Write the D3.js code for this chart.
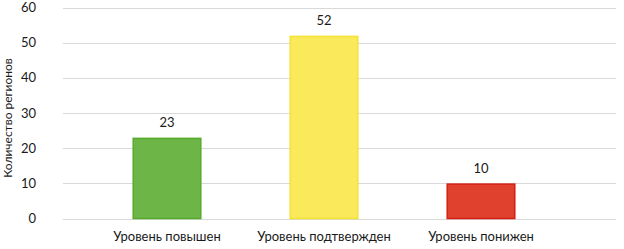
<!DOCTYPE html>
<html><head><meta charset="utf-8">
<script src="https://cdn.jsdelivr.net/npm/d3@7"></script>
<style>body{margin:0;background:#fff}svg{display:block}text{font-family:Lato,"Open Sans",sans-serif;fill:#1a1a1a}</style>
</head><body><svg id="c" width="624" height="249"></svg>
<script>
const categories = ["Уровень повышен", "Уровень подтвержден", "Уровень понижен"];
const values = [23, 52, 10];
const fills = ["#6db546", "#fae95a", "#e0402e"];
const strokes = ["#55ab2c", "#f4e234", "#d51f14"];
const yTicks = [0, 10, 20, 30, 40, 50, 60];
const yTitle = "Количество регионов";

const svg = d3.select("#c");
const y = d3.scaleLinear().domain([0, 60]).range([218.5, 7.5]);
const x = d3.scaleBand().domain(categories).range([88.5, 559.5]).paddingInner(0.56).paddingOuter(0.28);

svg.append("g").selectAll("line").data(yTicks).join("line")
  .attr("x1", 63).attr("x2", 616)
  .attr("y1", d => Math.round(y(d)) + 0.5).attr("y2", d => Math.round(y(d)) + 0.5)
  .attr("stroke", "#d9d9d9").attr("stroke-width", 1);

svg.append("g").selectAll("text").data(yTicks).join("text")
  .attr("x", 36).attr("y", d => y(d)).attr("dy", "0.35em")
  .attr("text-anchor", "end").attr("font-size", 13).text(d => d);

svg.append("text").attr("transform", "translate(12,118) rotate(-90)")
  .attr("text-anchor", "middle").attr("font-size", 12).text(yTitle);

svg.append("g").selectAll("rect").data(values).join("rect")
  .attr("x", (d, i) => x(categories[i]) + 0.75)
  .attr("width", x.bandwidth() - 1.5)
  .attr("y", d => y(d) + 0.75)
  .attr("height", d => y(0) - y(d) - 0.75)
  .attr("fill", (d, i) => fills[i]).attr("stroke", (d, i) => strokes[i]).attr("stroke-width", 1.5);

svg.append("g").selectAll("text").data(values).join("text")
  .attr("x", (d, i) => x(categories[i]) + x.bandwidth() / 2)
  .attr("y", d => y(d) - 15).attr("dy", "0.35em")
  .attr("text-anchor", "middle").attr("font-size", 13).text(d => d);

svg.append("g").selectAll("text").data(categories).join("text")
  .attr("x", d => x(d) + x.bandwidth() / 2)
  .attr("y", 236).attr("dy", "0.35em")
  .attr("text-anchor", "middle").attr("font-size", 13).text(d => d);
</script></body></html>
